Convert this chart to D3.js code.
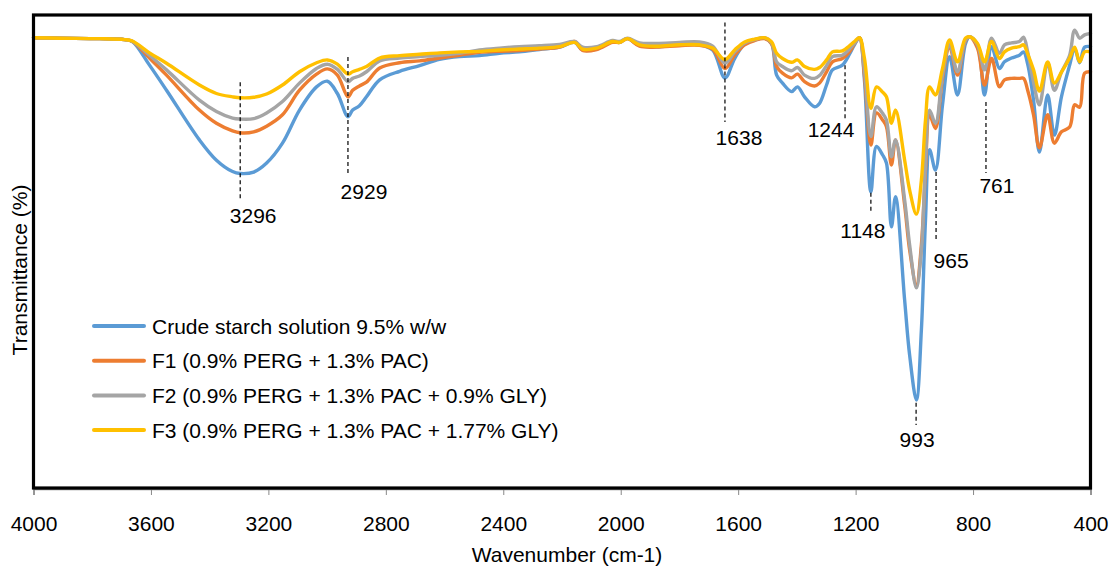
<!DOCTYPE html>
<html>
<head>
<meta charset="utf-8">
<script src="https://cdn.jsdelivr.net/npm/d3@7/dist/d3.min.js"></script>
<style>
  html, body { margin: 0; padding: 0; background: #fff; }
  svg { display: block; font-family: "Liberation Sans", Arial, sans-serif; }
</style>
</head>
<body>
<svg id="chart" width="1112" height="569"></svg>
<script>
// ---- Data ----
const wavenumbers = [4000,3911,3775,3690,3663,3605,3547,3435,3377,3322,
  3296,3250,3206,3152,3094,3036,2999,2965,2929,2913,2890,
  2866,2821,2753,2685,2617,2549,2481,2413,2345,2277,
  2208,2157,2130,2082,2028,2004,1977,1936,1878,1800,
  1732,1687,1645,1612,1578,1544,1510,1486,1469,1449,
  1418,1398,1374,1340,1323,1299,1279,1245,1221,1204,
  1187,1170,1148,1129,1108,1095,1078,1064,1033,1016,
  993,976,962,948,928,904,880,853,826,812,
  785,761,737,710,693,669,642,628,614,594,
  574,546,523,499,471,454,437,420,400];

const crudeStarch = [95.2,95.1,95.0,94.8,94.4,89.4,84.1,73.6,69.3,66.9,
  66.5,66.8,68.7,72.9,79.9,84.8,86.0,83.4,78.5,79.9,80.8,
  82.7,86.3,88.1,89.3,90.6,91.2,91.4,91.9,92.2,92.7,
  93.2,94.2,92.6,92.8,94.4,94.2,95.0,93.5,93.3,93.7,
  93.7,92.6,86.7,90.8,93.9,94.7,95.1,93.9,87.3,85.6,
  83.8,84.8,82.7,80.6,81.3,85.2,88.4,89.4,91.7,93.7,
  95.2,86.3,62.6,72.2,70.4,68.7,55.2,61.6,39.7,28.1,
  18.6,33.4,56.7,71.5,67.2,81.0,91.2,83.1,93.9,95.4,
  93.7,83.1,93.3,88.7,90.1,90.9,91.5,92.2,89.6,82.0,
  71.0,83.1,74.6,82.7,89.4,93.0,89.9,93.2,93.3];

const f1 = [95.2,95.1,95.0,94.8,94.4,90.9,87.3,79.9,77.1,75.5,
  75.1,75.3,76.5,78.9,84.1,87.5,88.6,87.3,82.7,84.1,85.0,
  85.8,88.8,89.9,90.3,90.9,91.5,92.1,92.3,92.5,92.8,
  93.2,94.4,92.5,92.7,94.2,94.2,95.0,93.4,93.2,93.5,
  93.6,92.8,88.7,91.5,93.7,94.6,95.0,93.9,89.1,87.7,
  86.7,87.5,85.9,85.0,85.6,88.0,90.1,90.8,92.2,93.9,
  95.2,87.3,72.5,79.3,77.8,76.4,68.3,73.6,59.8,50.3,
  42.9,51.4,67.2,78.9,76.0,86.6,93.3,87.3,94.5,95.4,
  93.0,85.2,90.8,84.8,86.3,86.6,86.6,86.6,84.1,78.9,
  71.9,78.9,72.9,75.3,76.3,81.0,80.5,87.7,88.0];

const f2 = [95.2,95.1,95.0,94.8,94.4,91.5,88.4,82.0,79.6,78.2,
  78.0,78.1,79.3,81.7,85.6,88.7,89.6,88.5,85.9,86.6,87.1,
  88.0,90.3,90.9,91.2,91.5,91.9,92.6,93.0,93.3,93.5,
  93.8,94.4,93.2,93.3,94.6,94.4,95.1,94.1,94.0,94.2,
  94.3,93.4,89.8,92.2,94.1,94.8,95.2,94.1,90.1,89.1,
  88.2,88.9,87.3,86.6,87.2,89.3,91.2,91.5,92.8,94.0,
  95.2,88.4,74.3,80.6,79.2,77.8,70.0,73.6,60.9,51.4,
  42.3,50.3,68.3,79.9,77.1,87.3,93.7,88.0,94.7,95.4,
  93.7,88.4,95.1,91.9,93.7,94.1,94.4,95.3,92.2,85.8,
  81.0,89.9,84.1,87.9,91.5,96.8,95.1,95.8,96.1];

const f3 = [95.2,95.1,95.0,94.8,94.5,92.0,89.8,85.2,83.4,82.7,
  82.5,82.6,83.3,85.2,88.0,89.9,90.5,89.6,87.5,88.0,88.5,
  89.1,90.9,91.4,91.7,92.0,92.2,92.3,92.6,92.8,93.0,
  93.3,94.2,92.8,93.0,94.4,94.2,95.0,93.7,93.4,93.7,
  93.7,93.0,90.6,92.6,94.3,94.9,95.2,94.3,91.9,90.8,
  90.0,90.5,89.1,88.5,88.9,90.5,92.2,92.4,93.5,94.4,
  95.2,90.9,80.3,84.8,83.7,82.7,77.1,79.9,69.3,63.0,
  57.9,65.1,77.8,84.8,83.1,88.7,94.7,90.1,95.1,95.4,
  94.0,90.1,94.4,90.8,92.2,93.0,93.3,93.7,91.8,88.4,
  83.9,90.1,85.6,87.9,90.9,93.2,90.1,92.2,92.2];

const seriesNames = [
  "Crude starch solution 9.5% w/w",
  "F1 (0.9% PERG + 1.3% PAC)",
  "F2 (0.9% PERG + 1.3% PAC + 0.9% GLY)",
  "F3 (0.9% PERG + 1.3% PAC + 1.77% GLY)"
];
const seriesValues = [crudeStarch, f1, f2, f3];
const seriesColors = ["#5B9BD5", "#ED7D31", "#A5A5A5", "#FFC000"];

const xTicks = [4000,3600,3200,2800,2400,2000,1600,1200,800,400];

// peak annotations: label, wavenumber of dashed marker, marker top/bottom and label baseline (transmittance units)
const peakLabels = ["3296","2929","1638","1244","1148","965","761","993"];
const peakWavenumbers = [3296,2929,1645,1236,1148,926,756,994];
const peakTop =    [85.8, 91.1, 98.4, 89.4, 62.4, 66.8, 81.6, 18.0];
const peakBottom = [60.9, 66.6, 77.4, 78.0, 58.1, 52.0, 66.6, 13.3];
const peakText =   [56.0, 61.1, 72.5, 74.2, 52.9, 46.5, 62.4, 8.7];
const peakDx =     [13, 16, 14, -14, -8, 15, 11, 1];

// ---- Layout ----
const plotLeft = 33.5, plotRight = 1090.5, plotTop = 15, plotBottom = 488;
const FONT = 21;

const svg = d3.select("#chart");
const x = d3.scaleLinear().domain([4000, 400]).range([plotLeft, plotRight]);
const y = d3.scaleLinear().domain([0, 100]).range([plotBottom, plotTop]);

// x axis ticks
const xAxis = d3.axisBottom(x).tickValues(xTicks).tickSize(6).tickPadding(21)
  .tickFormat(d3.format("d"));
const gx = svg.append("g").attr("transform", `translate(0,${plotBottom + 1})`).call(xAxis);
gx.select(".domain").attr("stroke", "#888").attr("stroke-width", 1.5);
gx.selectAll(".tick line").attr("stroke", "#888").attr("stroke-width", 1);
gx.selectAll(".tick text").attr("font-size", FONT).attr("fill", "#000")
  .attr("font-family", "Liberation Sans, Arial, sans-serif");

// lines
const line = d3.line().x(d => x(d[0])).y(d => y(d[1])).curve(d3.curveCatmullRom.alpha(0.5));
seriesValues.forEach((vals, i) => {
  const pts = wavenumbers.map((w, j) => [w, vals[j]]);
  svg.append("path").datum(pts)
    .attr("d", line)
    .attr("fill", "none")
    .attr("stroke", seriesColors[i])
    .attr("stroke-width", 3.4)
    .attr("stroke-linejoin", "round")
    .attr("stroke-linecap", "round");
});

// frame
svg.append("rect")
  .attr("x", plotLeft).attr("y", plotTop)
  .attr("width", plotRight - plotLeft).attr("height", plotBottom - plotTop)
  .attr("fill", "none").attr("stroke", "#000").attr("stroke-width", 3.2);

// annotations
peakLabels.forEach((lab, i) => {
  const xp = x(peakWavenumbers[i]);
  svg.append("line")
    .attr("x1", xp).attr("x2", xp)
    .attr("y1", y(peakTop[i])).attr("y2", y(peakBottom[i]))
    .attr("stroke", "#000").attr("stroke-width", 1.2)
    .attr("stroke-dasharray", "4,3");
  svg.append("text")
    .attr("x", xp + peakDx[i]).attr("y", y(peakText[i]))
    .attr("text-anchor", "middle")
    .attr("font-size", FONT).attr("fill", "#000")
    .text(lab);
});

// legend
const legend = svg.append("g");
const legendY0 = 326, legendStep = 34.7;
seriesNames.forEach((name, i) => {
  const yy = legendY0 + i * legendStep;
  legend.append("line")
    .attr("x1", 94).attr("x2", 144).attr("y1", yy).attr("y2", yy)
    .attr("stroke", seriesColors[i]).attr("stroke-width", 4)
    .attr("stroke-linecap", "round");
  legend.append("text")
    .attr("x", 152).attr("y", yy + 7.5)
    .attr("font-size", FONT).attr("fill", "#000")
    .text(name);
});

// axis titles
svg.append("text")
  .attr("x", (plotLeft + plotRight) / 2 + 5).attr("y", 562)
  .attr("text-anchor", "middle").attr("font-size", FONT).attr("fill", "#000")
  .text("Wavenumber (cm-1)");
svg.append("text")
  .attr("transform", "translate(27,270) rotate(-90)")
  .attr("text-anchor", "middle").attr("font-size", FONT).attr("fill", "#000")
  .text("Transmittance (%)");
</script>
</body>
</html>
